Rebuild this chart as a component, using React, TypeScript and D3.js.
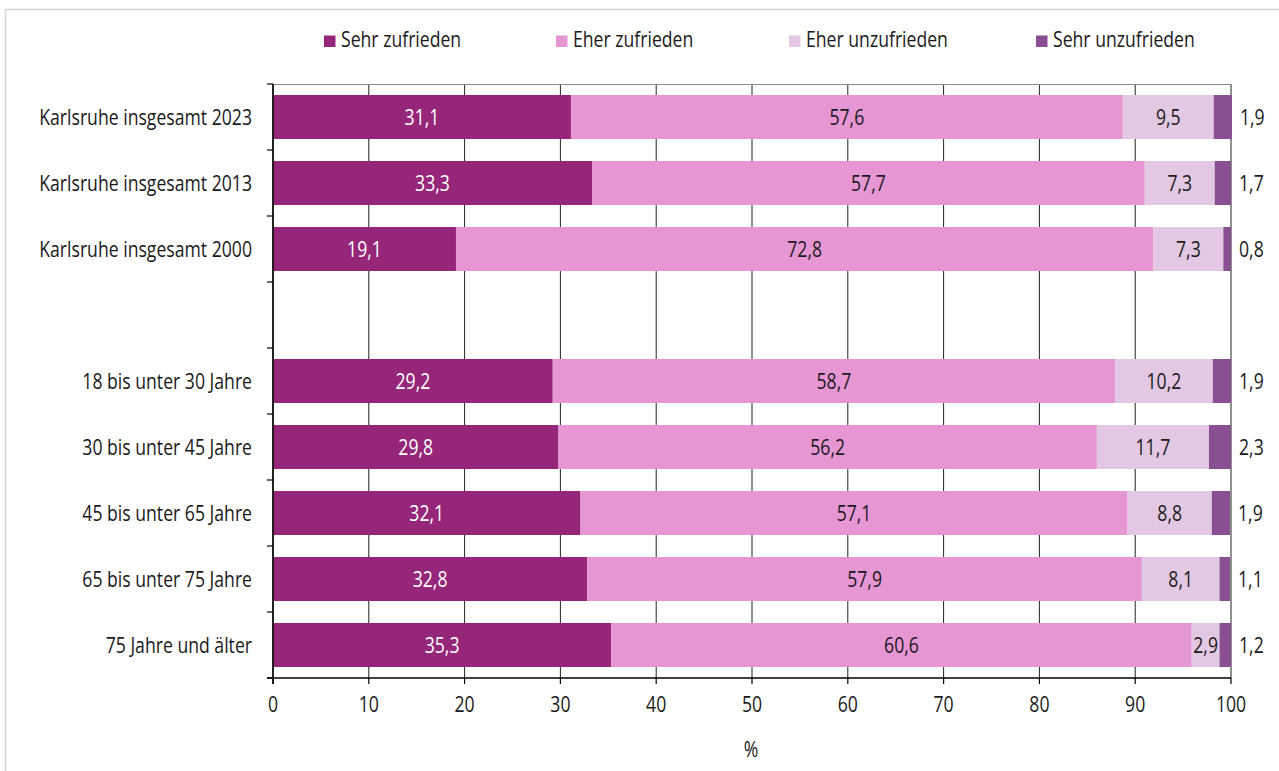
import React from 'react';
import * as d3 from 'd3';

const categories = [
  'Karlsruhe insgesamt 2023',
  'Karlsruhe insgesamt 2013',
  'Karlsruhe insgesamt 2000',
  '',
  '18 bis unter 30 Jahre',
  '30 bis unter 45 Jahre',
  '45 bis unter 65 Jahre',
  '65 bis unter 75 Jahre',
  '75 Jahre und älter',
];
const seriesNames = ['Sehr zufrieden', 'Eher zufrieden', 'Eher unzufrieden', 'Sehr unzufrieden'];
const sehrZufrieden = [31.1, 33.3, 19.1, null, 29.2, 29.8, 32.1, 32.8, 35.3];
const eherZufrieden = [57.6, 57.7, 72.8, null, 58.7, 56.2, 57.1, 57.9, 60.6];
const eherUnzufrieden = [9.5, 7.3, 7.3, null, 10.2, 11.7, 8.8, 8.1, 2.9];
const sehrUnzufrieden = [1.9, 1.7, 0.8, null, 1.9, 2.3, 1.9, 1.1, 1.2];
const xTicks = [0, 10, 20, 30, 40, 50, 60, 70, 80, 90, 100];
const colors = ['#962679', '#e696d3', '#e2c8e2', '#8a4f93'];
const labelColors = ['#ffffff', '#1a1a1a', '#1a1a1a', '#1a1a1a'];

const W = 1279;
const H = 771;
const FONT = 'Open Sans';
const SX = 0.84;
const FS = 21;

function T({ x, y, anchor = 'start', fill = '#1a1a1a', children }: any) {
  return (
    <text
      transform={`translate(${x},${y}) scale(${SX},1)`}
      textAnchor={anchor}
      fontFamily={FONT}
      fontSize={FS}
      fontWeight={400}
      fill={fill}
    >
      {children}
    </text>
  );
}

const fmt = (v: number) => v.toFixed(1).replace('.', ',');

export default function App() {
  const left = 273;
  const right = 1231;
  const top = 84;
  const bottom = 678;
  const x = d3.scaleLinear().domain([0, 100]).range([left, right]);
  const y = d3
    .scaleBand<string>()
    .domain(categories.map((c, i) => String(i)))
    .range([top, bottom])
    .paddingInner(0.333)
    .paddingOuter(0.1665);
  const step = y.step();
  const bw = y.bandwidth();
  const seriesData = [sehrZufrieden, eherZufrieden, eherUnzufrieden, sehrUnzufrieden];

  const boundaries = categories.map((_, i) => (y(String(i)) as number) - (step - bw) / 2);
  boundaries.push(bottom);

  const legendX = [324, 556, 789, 1036];

  return (
    <svg width={W} height={H} style={{ position: 'absolute', left: 0, top: 0, background: '#fff' }}>
      <rect x={5.5} y={9.5} width={1400} height={900} fill="#fff" stroke="#d4d4d4" strokeWidth={1.5} />
      {/* legend */}
      {seriesNames.map((s, i) => (
        <g key={s}>
          <rect x={legendX[i]} y={35.5} width={11.5} height={11.5} fill={colors[i]} />
          <T x={legendX[i] + 17} y={47}>{s}</T>
        </g>
      ))}
      {/* grid */}
      {xTicks.map((t) => (
        <line key={t} x1={x(t)} x2={x(t)} y1={top} y2={bottom} stroke="#222" strokeWidth={1} />
      ))}
      <line x1={left} x2={right} y1={top + 0.5} y2={top + 0.5} stroke="#8c8c8c" strokeWidth={1} />
      {/* bars */}
      {categories.map((c, i) => {
        const vals = seriesData.map((s) => s[i]);
        if (vals[0] == null) return null;
        let cum = 0;
        const yy = y(String(i)) as number;
        return (
          <g key={i}>
            {vals.map((v, k) => {
              const x0 = cum;
              cum += v as number;
              return (
                <rect key={k} x={x(x0)} y={yy} width={x(cum) - x(x0)} height={bw} fill={colors[k]} />
              );
            })}
          </g>
        );
      })}
      {categories.map((c, i) => {
        const vals = seriesData.map((s) => s[i]);
        if (vals[0] == null) return null;
        let cum = 0;
        const cy = (y(String(i)) as number) + bw / 2 + 7.5;
        return (
          <g key={'l' + i}>
            {vals.map((v, k) => {
              const x0 = cum;
              cum += v as number;
              if (k === 3) {
                return (
                  <T key={k} x={x(cum) + 8} y={cy} fill={labelColors[k]}>
                    {fmt(v as number)}
                  </T>
                );
              }
              return (
                <T key={k} x={(x(x0) + x(cum)) / 2} y={cy} anchor="middle" fill={labelColors[k]}>
                  {fmt(v as number)}
                </T>
              );
            })}
          </g>
        );
      })}
      {/* axes */}
      <line x1={left} x2={left} y1={top} y2={bottom + 6} stroke="#000" strokeWidth={1.5} />
      <line x1={left - 6} x2={right} y1={bottom} y2={bottom} stroke="#000" strokeWidth={1.5} />
      {boundaries.map((b, i) => (
        <line key={'yt' + i} x1={left - 6} x2={left} y1={b} y2={b} stroke="#000" strokeWidth={1.2} />
      ))}
      {xTicks.map((t) => (
        <line key={'xt' + t} x1={x(t)} x2={x(t)} y1={bottom} y2={bottom + 6} stroke="#000" strokeWidth={1.2} />
      ))}
      {xTicks.map((t) => (
        <T key={'xl' + t} x={x(t)} y={712} anchor="middle">{t}</T>
      ))}
      {categories.map((c, i) => (
        <T key={'yl' + i} x={252} y={(y(String(i)) as number) + bw / 2 + 7.5} anchor="end">{c}</T>
      ))}
      <T x={751} y={757} anchor="middle">%</T>
    </svg>
  );
}
